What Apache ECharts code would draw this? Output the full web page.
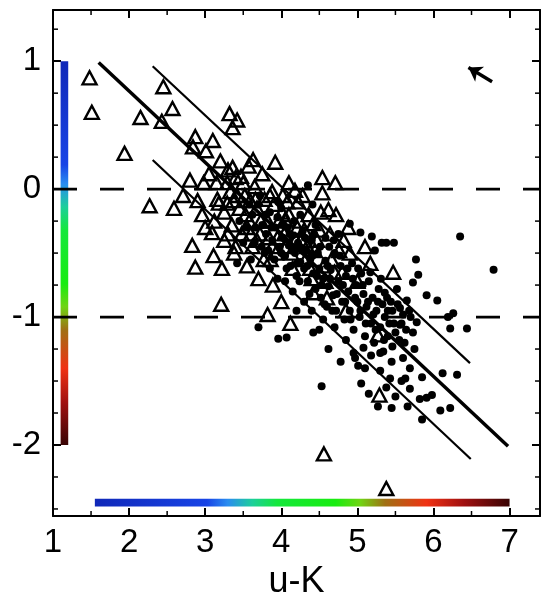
<!DOCTYPE html>
<html><head><meta charset="utf-8">
<script src="https://cdn.jsdelivr.net/npm/echarts@6/dist/echarts.min.js"></script>
<style>html,body{margin:0;padding:0;background:#fff}#c{width:542px;height:599px}</style>
</head><body><div id="c"></div><script>
// ---- data ----
const triangles = [
[1.48,0.87],[1.51,0.60],[1.94,0.28],[2.15,0.56],[2.45,0.80],[2.57,0.63],[2.43,0.53],[2.27,-0.13],[3.32,0.59],[3.42,0.54],[3.36,0.48],
[2.87,0.41],[2.84,0.33],[3.01,0.30],[3.36,0.17],[3.57,0.18],[2.80,0.07],[2.98,0.05],[3.40,0.09],[2.71,-0.05],[2.59,-0.15],
[2.90,-0.09],[2.96,-0.20],[3.16,-0.08],[3.33,-0.02],[3.29,-0.11],[3.09,-0.34],[2.83,-0.44],[3.11,-0.52],[2.87,-0.61],[3.22,-0.62],
[3.85,-0.05],[4.18,-0.01],[3.89,-0.75],[3.59,-0.09],[3.21,-0.90],[4.00,-0.88],[3.82,-0.98],[4.12,-1.05],[4.54,0.09],[4.71,0.05],
[4.54,-0.03],[4.62,-0.16],[4.42,-0.27],[4.88,-0.30],[5.10,-0.45],[3.92,0.21],[4.01,-0.18],[4.05,-0.24],[4.21,-0.30],[3.88,-0.45],
[5.17,-0.58],[5.47,-0.65],[5.27,-1.14],[4.42,-0.81],[5.29,-1.61],[4.56,-2.07],[5.38,-2.34],[3.63,0.23],[3.18,-0.11],[3.29,0.05],
[3.37,-0.09],[3.55,-0.30],[3.68,-0.40],
[3.25,-0.18],[3.35,-0.28],[3.45,-0.15],[3.48,-0.35],[3.52,-0.05],[3.58,-0.25],[3.62,-0.45],[3.68,-0.15],[3.72,-0.35],[3.78,-0.08],
[3.82,-0.25],[3.86,-0.55],[3.90,-0.12],[3.95,-0.38],[4.02,-0.05],[4.06,-0.45],[4.10,-0.20],[4.15,-0.62],[4.22,-0.10],[4.26,-0.40],
[4.32,-0.55],[4.36,-0.20],[4.44,-0.48],[4.50,-0.32],[4.56,-0.60],[4.66,-0.55],[4.72,-0.20],[4.80,-0.65],[4.90,-0.50],[5.00,-0.72],
[3.40,-0.45],[3.55,-0.60],[3.70,-0.70],[3.30,0.15],[3.50,0.05],[3.65,0.02],[3.75,0.12],[4.10,0.05],[4.28,-0.05],[3.12,-0.25],
[3.05,0.12],[3.20,0.22],[3.10,0.38],[3.25,-0.40],[4.40,-0.70],[4.60,-0.85],[4.85,-0.95],
[3.42,-0.05],[3.47,0.10],[3.53,-0.20],[3.60,-0.35],[3.66,-0.08],[3.73,-0.25],[3.77,-0.55],[3.84,-0.38],[3.88,-0.02],[3.93,-0.50],
[3.97,-0.25],[4.04,-0.35],[4.08,-0.10],[4.13,-0.50],[4.19,-0.40],[4.24,-0.25],[4.30,-0.32],[4.34,-0.45],[4.38,-0.62],[4.47,-0.40],
[4.52,-0.18],[4.58,-0.72],[4.64,-0.35],[4.70,-0.65],[4.76,-0.48],[4.82,-0.40],[3.30,-0.35],[3.38,-0.50],[3.15,0.05],[3.00,-0.30]
];
const dots = [
[6.35,-0.37],[6.79,-0.63],[5.77,-0.55],[5.80,-0.67],[5.73,-0.73],[5.91,-0.83],[6.05,-0.87],[6.26,-0.97],[6.19,-1.00],[5.38,-0.42],
[5.48,-0.42],[6.22,-1.09],[6.44,-1.09],[5.73,-1.12],[5.56,-1.06],[5.34,-1.27],[5.45,-1.35],[5.60,-1.32],[5.69,-1.40],[6.12,-1.44],
[6.31,-1.45],[5.85,-1.47],[5.63,-1.48],[5.43,-1.48],[5.69,-1.56],[5.82,-1.64],[5.91,-1.63],[5.98,-1.61],[5.27,-1.70],[5.45,-1.71],
[5.66,-1.70],[6.09,-1.73],[6.22,-1.71],[5.85,-1.80],[4.53,-1.54],[4.07,-1.16],[3.96,-1.17],[4.42,-1.12],[5.36,-0.81],[5.40,-0.95],
[5.56,-0.93],[5.65,-0.87],[5.78,-1.04],[5.46,-1.23],[5.30,-1.28],[5.08,-1.24],[4.97,-1.32],[5.01,-1.38],[5.32,-0.42],[4.35,0.03],
[4.41,-0.12],[5.04,-0.34],[5.19,-0.37],[5.23,-0.48],[4.90,-0.27],[3.42,-0.58],[3.70,-1.08],
[3.62,-0.20],[3.70,-0.12],[3.75,-0.28],[3.80,-0.35],[3.85,-0.18],[3.88,-0.40],[3.92,-0.30],[3.95,-0.22],[3.98,-0.45],[4.02,-0.38],
[4.05,-0.52],[4.08,-0.30],[4.10,-0.44],[4.12,-0.60],[4.15,-0.36],[4.18,-0.50],[4.20,-0.68],[4.22,-0.42],[4.25,-0.57],[4.28,-0.33],
[4.30,-0.62],[4.33,-0.48],[4.35,-0.72],[4.38,-0.55],[4.40,-0.40],[4.42,-0.66],[4.45,-0.78],[4.48,-0.50],[4.50,-0.62],[4.52,-0.85],
[4.55,-0.70],[4.58,-0.56],[4.60,-0.92],[4.62,-0.76],[4.65,-0.63],[4.68,-0.83],[4.70,-0.50],[4.72,-0.95],[4.75,-0.72],[4.78,-0.60],
[4.80,-0.88],[4.83,-1.02],[4.85,-0.68],[4.88,-0.80],[4.90,-0.95],[4.93,-0.58],[4.95,-1.10],[4.98,-0.75],[5.00,-0.88],[5.03,-1.00],
[5.05,-0.66],[5.08,-0.82],[5.10,-1.15],[5.12,-0.92],[5.15,-0.72],[5.18,-1.05],[5.20,-0.85],[5.22,-1.20],[5.25,-0.95],[5.28,-0.78],
[5.30,-1.08],[5.33,-0.90],[5.36,-1.00],[5.40,-1.15],[5.44,-0.88],[5.48,-1.05],[5.52,-0.78],[5.55,-1.18],[5.60,-0.98],[5.64,-1.10],
[3.55,-0.30],[3.65,-0.42],[3.72,-0.05],[3.78,-0.50],[4.00,-0.15],[4.25,-0.20],[4.45,-0.28],[4.58,-0.38],[4.63,-0.45],[4.75,-0.35],
[4.05,-0.72],[4.15,-0.80],[4.30,-0.88],[4.40,-0.95],[4.55,-1.02],[4.70,-1.08],[4.85,-1.18],[4.95,-1.28],[5.10,-1.40],[5.18,-1.30],
[4.20,-0.95],[4.50,-1.10],[3.85,-0.62],[3.95,-0.70],[4.62,-1.25],[4.78,-1.35],[5.05,-1.52],[5.15,-1.60],[5.30,-1.42],[5.38,-1.55],
[5.50,-1.62],[5.58,-1.50],
[3.45,-0.25],[3.50,-0.42],[3.58,-0.12],[3.60,-0.55],[3.66,-0.30],[3.74,-0.45],[3.79,-0.20],[3.83,-0.48],[3.87,-0.30],[3.91,-0.55],
[3.96,-0.10],[4.00,-0.50],[4.03,-0.28],[4.07,-0.62],[4.11,-0.35],[4.14,-0.48],[4.17,-0.25],[4.21,-0.58],[4.24,-0.72],[4.27,-0.46],
[4.31,-0.38],[4.34,-0.60],[4.37,-0.82],[4.41,-0.52],[4.43,-0.35],[4.47,-0.68],[4.51,-0.45],[4.53,-0.75],[4.57,-0.90],[4.61,-0.60],
[4.64,-0.70],[4.67,-0.95],[4.69,-0.40],[4.73,-0.82],[4.77,-0.52],[4.81,-0.75],[4.84,-0.88],[4.87,-0.62],[4.91,-1.02],[4.94,-0.70],
[4.97,-0.85],[5.01,-0.62],[5.04,-0.95],[5.07,-0.75],[5.11,-1.05],[5.14,-0.88],[5.17,-0.65],[5.21,-0.98],[5.24,-1.10],[5.27,-0.88],
[5.31,-0.70],[5.35,-1.18],[5.39,-0.85],[5.42,-1.05],[5.46,-0.95],[5.50,-1.12],[5.53,-0.90],[5.58,-1.05],[5.62,-1.20],[5.70,-1.00],
[5.75,-1.25],[5.68,-0.95]
];
const fitLine = [[1.6,0.99],[6.98,-2.01]];
const upperLine = [[2.31,0.96],[6.48,-1.36]];
const lowerLine = [[2.31,0.227],[6.49,-2.11]];
const refLevels = [0, -1];
const xMinor = [1.5,2.5,3.5,4.5,5.5,6.5];
const yMinor = [-2.5,-2.25,-1.75,-1.5,-1.25,-0.75,-0.5,-0.25,0.25,0.5,0.75,1.25];
const annotations = [['gas rich', 4.27, 0.56], ['gas poor', 3.81, -1.84]];
const arrowPts = [[6.77,0.84],[6.46,0.95]];
const colorBars = [[1.1,-2,1.2,1,1],[1.55,-2.48,7.0,-2.42,0]]; // x0,y0,x1,y1,vertical
const X_MIN = 1, X_MAX = 7.4, Y_MIN = -2.555, Y_MAX = 1.4;
const stops = [[0,'#1028b8'],[0.27,'#1844e6'],[0.32,'#2a8cf0'],[0.38,'#1ccf9a'],[0.44,'#14e83c'],[0.58,'#18ec10'],[0.64,'#70d414'],[0.70,'#a07014'],[0.80,'#f03214'],[0.89,'#a01010'],[1,'#380404']];

// ---- chart ----
const FONT = 'Liberation Sans';
const chart = echarts.init(document.getElementById('c'), null, {renderer:'canvas'});
const axLine = {show:true, onZero:false, lineStyle:{color:'#000', width:2}};
const axTick = {show:true, inside:true, length:8, lineStyle:{color:'#000', width:2}};
const intFmt = v => (Math.abs(v - Math.round(v)) < 1e-9 ? String(Math.round(v)) : '');

function renderBar(params, api) {
  const pTop = api.coord([api.value(0), api.value(3)]);
  const pBot = api.coord([api.value(2), api.value(1)]);
  const vert = api.value(4) === 1;
  const grad = new echarts.graphic.LinearGradient(0, 0, vert ? 0 : 1, vert ? 1 : 0,
    stops.map(s => ({offset:s[0], color:s[1]})));
  return {type:'rect', shape:{x:pTop[0], y:pTop[1], width:pBot[0]-pTop[0], height:pBot[1]-pTop[1]}, style:{fill:grad}};
}
function renderMinor(params, api) {
  const v = api.value(0), ax = api.value(1);
  const st = {stroke:'#000', lineWidth:1.5};
  if (ax === 0) {
    const b = api.coord([v, Y_MIN]), t = api.coord([v, Y_MAX]);
    return {type:'group', children:[
      {type:'line', shape:{x1:b[0], y1:b[1], x2:b[0], y2:b[1]-5}, style:st},
      {type:'line', shape:{x1:t[0], y1:t[1], x2:t[0], y2:t[1]+5}, style:st}]};
  }
  const l = api.coord([X_MIN, v]), r = api.coord([X_MAX, v]);
  return {type:'group', children:[
    {type:'line', shape:{x1:l[0], y1:l[1], x2:l[0]+5, y2:l[1]}, style:st},
    {type:'line', shape:{x1:r[0], y1:r[1], x2:r[0]-5, y2:r[1]}, style:st}]};
}

const series = [];
series.push({type:'custom', renderItem:renderBar, data:colorBars, clip:false, silent:true, z:1,
  dimensions:['x0','y0','x1','y1','v'], encode:{x:[0,2], y:[1,3]}});
series.push({type:'custom', renderItem:renderMinor, silent:true, z:3,
  data: xMinor.map(v => [v, 0]).concat(yMinor.map(v => [v, 1])),
  dimensions:['v','a'], encode:{x:-1, y:-1}});
refLevels.forEach(lv => series.push({type:'line', data:[[X_MIN, lv], [X_MAX, lv]], symbol:'none', silent:true, z:2,
  lineStyle:{color:'#000', width:2.8, type:[24,23]}}));
series.push({type:'line', data:fitLine, symbol:'none', silent:true, z:4, lineStyle:{color:'#000', width:3.5}});
series.push({type:'line', data:upperLine, symbol:'none', silent:true, z:4, lineStyle:{color:'#000', width:2.2}});
series.push({type:'line', data:lowerLine, symbol:'none', silent:true, z:4, lineStyle:{color:'#000', width:2.2}});
series.push({type:'scatter', data:triangles, symbol:'triangle', symbolSize:[14,13], silent:true, z:5,
  itemStyle:{color:'rgba(255,255,255,0)', borderColor:'#000', borderWidth:2.4, opacity:1}});
series.push({type:'scatter', data:dots, symbol:'circle', symbolSize:8, silent:true, z:6, itemStyle:{color:'#000', opacity:1}});
series.push({type:'scatter', data:annotations.map(a => ({name:a[0], value:[a[1], a[2]]})), symbolSize:1, silent:true, z:7,
  itemStyle:{opacity:0},
  label:{show:true, position:'inside', formatter:'{b}', color:'#111', fontSize:20, fontFamily:FONT}});
series.push({type:'line', data:[], silent:true, markLine:{silent:true, symbol:['none','arrow'], symbolSize:[13,13], label:{show:false},
  lineStyle:{color:'#000', width:3.5, type:'solid'}, data:[[{coord:arrowPts[0]}, {coord:arrowPts[1]}]]}});

chart.setOption({
  animation:false,
  backgroundColor:'#fff',
  grid:{left:53, right:2, top:10, bottom:83, containLabel:false, outerBoundsMode:'none'},
  xAxis:[
    {type:'value', min:X_MIN, max:X_MAX, interval:1, position:'bottom', axisLine:axLine, axisTick:axTick, splitLine:{show:false},
     axisLabel:{fontSize:33, color:'#000', fontFamily:FONT, margin:10, formatter:intFmt, showMaxLabel:false},
     name:'u-K', nameLocation:'middle', nameGap:45, nameTextStyle:{fontSize:36, color:'#000', fontFamily:FONT, verticalAlign:'top'}},
    {type:'value', min:X_MIN, max:X_MAX, interval:1, position:'top', axisLine:axLine, axisTick:axTick, splitLine:{show:false},
     axisLabel:{show:false}}
  ],
  yAxis:[
    {type:'value', min:Y_MIN, max:Y_MAX, splitNumber:4, position:'left', axisLine:axLine, axisTick:axTick, splitLine:{show:false},
     axisLabel:{fontSize:33, color:'#000', fontFamily:FONT, margin:12, formatter:intFmt, showMinLabel:false, showMaxLabel:false}},
    {type:'value', min:Y_MIN, max:Y_MAX, splitNumber:4, position:'right', axisLine:axLine, axisTick:axTick, splitLine:{show:false},
     axisLabel:{show:false}}
  ],
  series: series
});
</script></body></html>
